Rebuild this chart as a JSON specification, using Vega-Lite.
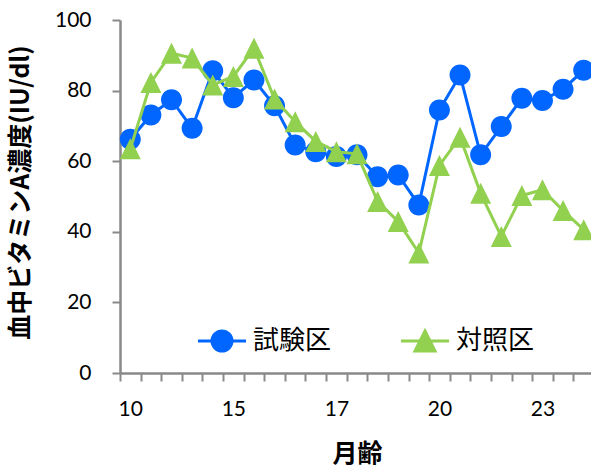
{
  "$schema": "https://vega.github.io/schema/vega-lite/v6.json",
  "autosize": {"type": "none"},
  "padding": {"left": 120, "top": 20, "right": 0, "bottom": 95},
  "width": 474,
  "height": 353,
  "background": "white",
  "data": {"values": [
    {"i":0,"s":"試験区","v":66.2},{"i":1,"s":"試験区","v":73.1},{"i":2,"s":"試験区","v":77.4},{"i":3,"s":"試験区","v":69.3},
    {"i":4,"s":"試験区","v":85.6},{"i":5,"s":"試験区","v":78.0},{"i":6,"s":"試験区","v":83.0},{"i":7,"s":"試験区","v":75.7},
    {"i":8,"s":"試験区","v":64.6},{"i":9,"s":"試験区","v":62.7},{"i":10,"s":"試験区","v":61.3},{"i":11,"s":"試験区","v":61.8},
    {"i":12,"s":"試験区","v":55.6},{"i":13,"s":"試験区","v":56.1},{"i":14,"s":"試験区","v":47.6},{"i":15,"s":"試験区","v":74.5},
    {"i":16,"s":"試験区","v":84.4},{"i":17,"s":"試験区","v":61.8},{"i":18,"s":"試験区","v":69.8},{"i":19,"s":"試験区","v":77.8},
    {"i":20,"s":"試験区","v":77.2},{"i":21,"s":"試験区","v":80.4},{"i":22,"s":"試験区","v":85.8},
    {"i":0,"s":"対照区","v":63.5},{"i":1,"s":"対照区","v":82.3},{"i":2,"s":"対照区","v":90.6},{"i":3,"s":"対照区","v":89.2},
    {"i":4,"s":"対照区","v":81.6},{"i":5,"s":"対照区","v":84.0},{"i":6,"s":"対照区","v":92.0},{"i":7,"s":"対照区","v":77.6},
    {"i":8,"s":"対照区","v":71.2},{"i":9,"s":"対照区","v":65.6},{"i":10,"s":"対照区","v":62.7},{"i":11,"s":"対照区","v":62.1},
    {"i":12,"s":"対照区","v":48.6},{"i":13,"s":"対照区","v":42.9},{"i":14,"s":"対照区","v":34.0},{"i":15,"s":"対照区","v":58.8},
    {"i":16,"s":"対照区","v":66.8},{"i":17,"s":"対照区","v":50.9},{"i":18,"s":"対照区","v":38.7},{"i":19,"s":"対照区","v":50.3},
    {"i":20,"s":"対照区","v":51.9},{"i":21,"s":"対照区","v":46.0},{"i":22,"s":"対照区","v":40.6}
  ]},
  "encoding": {
    "x": {"field": "i", "type": "ordinal", "scale": {"type": "point", "padding": 0.5},
      "axis": {"title": "月齢", "labelAngle": 0, "labelOverlap": false, "grid": false,
        "labelExpr": "datum.value==0?'10':datum.value==5?'15':datum.value==10?'17':datum.value==15?'20':datum.value==20?'23':''",
        "tickOffset": -10.3, "labelOffset": 10.3, "tickSize": 8, "tickColor": "#898989", "tickWidth": 2,
        "domainColor": "#898989", "domainWidth": 2.5, "labelFont": "Lato", "labelFontSize": 21, "labelColor": "#000",
        "labelPadding": 17, "titleFont": "Noto Sans CJK JP", "titleFontSize": 25, "titleFontWeight": "bold", "titleColor": "#000",
        "titleBaseline": "middle", "titleY": 80}},
    "y": {"field": "v", "type": "quantitative", "scale": {"domain": [0, 100], "nice": false},
      "axis": {"title": "血中ビタミンA濃度(IU/dl)", "values": [0,20,40,60,80,100], "grid": false,
        "tickSize": 8, "tickColor": "#898989", "tickWidth": 2, "domainColor": "#898989", "domainWidth": 2.5,
        "labelFont": "Lato", "labelFontSize": 21, "labelColor": "#000", "labelPadding": 21,
        "titleFont": "Noto Sans CJK JP", "titleFontSize": 25, "titleFontWeight": "bold", "titleColor": "#000",
        "titleAngle": -90, "titleAlign": "center", "titleBaseline": "middle", "titleX": -100, "titleY": 172}},
    "color": {"field": "s", "type": "nominal", "scale": {"domain": ["試験区", "対照区"], "range": ["#0066FF", "#92D050"]},
      "legend": {"orient": "none", "legendX": 89, "legendY": 308, "direction": "horizontal", "title": null,
        "labelFont": "Noto Sans CJK JP", "labelFontSize": 26, "labelColor": "#000", "symbolSize": 400,
        "symbolStrokeWidth": 3, "symbolOpacity": 1, "labelOffset": 18, "columnPadding": 63, "padding": 0,
        "encode": {"symbols": {"update": {"stroke": {"scale": "color", "field": "value"}}}}}}
  },
  "layer": [
    {"transform": [{"filter": "datum.s=='試験区'"}], "mark": {"type": "line", "strokeWidth": 3}},
    {"transform": [{"filter": "datum.s=='試験区'"}], "mark": {"type": "point", "filled": true, "opacity": 1, "size": 441, "strokeWidth": 0},
     "encoding": {"shape": {"field": "s", "type": "nominal",
        "scale": {"domain": ["試験区", "対照区"], "range": ["M-2.4,0H2.4M1,0A1,1,0,1,1,-1,0A1,1,0,1,1,1,0Z", "M-2.4,0H2.4M0,-1L1,1L-1,1Z"]}}}},
    {"transform": [{"filter": "datum.s=='対照区'"}], "mark": {"type": "line", "strokeWidth": 3}},
    {"transform": [{"filter": "datum.s=='対照区'"}], "mark": {"type": "point", "filled": true, "opacity": 1, "size": 441, "strokeWidth": 0},
     "encoding": {"shape": {"field": "s", "type": "nominal",
        "scale": {"domain": ["試験区", "対照区"], "range": ["M-2.4,0H2.4M1,0A1,1,0,1,1,-1,0A1,1,0,1,1,1,0Z", "M-2.4,0H2.4M0,-1L1,1L-1,1Z"]}}}}
  ],
  "config": {"view": {"stroke": null}, "font": "Lato"}
}
